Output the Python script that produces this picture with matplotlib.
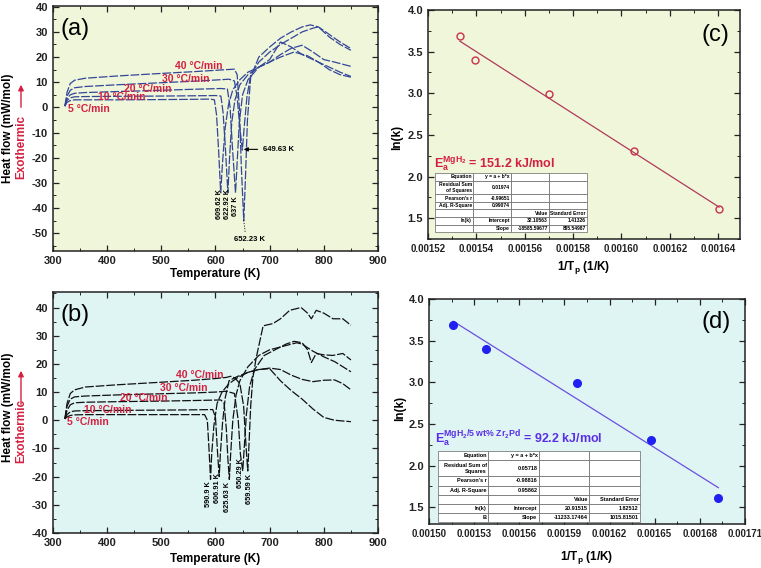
import matplotlib
matplotlib.use('Agg')
import matplotlib.pyplot as plt
import numpy as np
from matplotlib.ticker import MultipleLocator, FormatStrFormatter

plt.rcParams['font.family'] = ['Liberation Sans', 'DejaVu Sans']
plt.rcParams['mathtext.fontset'] = 'custom'
plt.rcParams['mathtext.rm'] = 'Liberation Sans'
plt.rcParams['mathtext.bf'] = 'Liberation Sans:bold'
plt.rcParams['mathtext.it'] = 'Liberation Sans:italic'
plt.rcParams['axes.unicode_minus'] = False

# ---------------- data ----------------
rates = ['5', '10', '20', '30', '40']
ln_k = [1.609, 2.303, 2.996, 3.401, 3.689]

# peak temperatures (K)
tp_a = [609.62, 622.92, 637.0, 649.63, 652.23]
tp_b = [590.9, 606.91, 625.63, 650.29, 659.59]

# DSC curves, panel (a) MgH2
a5_T = [322, 326, 332, 340, 360, 420, 500, 560, 590, 598, 602, 606, 609.6, 613, 618, 624, 632, 645, 660, 680, 700, 720, 745, 770, 790, 810, 830, 850]
a5_H = [0.5, 2.0, 2.7, 3.0, 3.0, 3.0, 3.1, 3.2, 3.3, 3.0, -3, -18, -34, -22, -8, 1, 7, 11, 14, 16, 18, 20, 22, 20.5, 18, 15, 13, 12]
a10_T = [322, 326, 332, 340, 360, 420, 500, 560, 600, 610, 614, 618, 622.9, 626, 630, 636, 645, 660, 680, 700, 720, 740, 760, 790, 810, 830, 850]
a10_H = [0.5, 2.8, 3.8, 4.2, 4.3, 4.4, 4.5, 4.6, 4.7, 4.5, -2, -15, -34, -20, -6, 3, 9, 13, 16, 19, 26, 24, 21, 18, 16, 14, 12.3]
a20_T = [322, 326, 332, 340, 360, 420, 500, 560, 610, 622, 627, 631, 637, 640, 644, 650, 660, 680, 700, 720, 740, 760, 780, 800, 820, 850]
a20_H = [0.5, 3.5, 5.0, 5.6, 5.9, 6.3, 6.8, 7.2, 7.5, 7.3, 0, -15, -34, -22, -6, 5, 11, 16, 18, 21, 23.5, 24.7, 22, 19, 18, 16.3]
a30_T = [322, 326, 332, 340, 360, 420, 500, 560, 610, 625, 635, 640, 645, 649.6, 653, 658, 665, 680, 700, 720, 740, 760, 780, 790, 810, 830, 850]
a30_H = [0.5, 4.5, 6.8, 7.8, 8.3, 9.0, 9.8, 10.4, 11.0, 11.2, 10.5, 4, -8, -17, -8, 4, 13, 18, 22, 25, 27.5, 30, 31.5, 32, 28, 25, 22.7]
a40_T = [322, 326, 332, 340, 360, 420, 500, 560, 620, 635, 640, 644, 648, 652.2, 655, 659, 665, 680, 700, 720, 740, 760, 775, 790, 810, 830, 850]
a40_H = [0.5, 6, 9.5, 10.8, 11.6, 12.5, 13.5, 14.2, 15.0, 15.2, 13, 0, -25, -45, -30, -5, 12, 20, 24, 27.5, 30, 32, 32.8, 32, 29, 26, 23.4]

# DSC curves, panel (b) MgH2/5 wt% Zr2Pd
b5_T = [322, 326, 332, 340, 360, 420, 500, 560, 580, 585, 588, 590.9, 593, 597, 603, 612, 625, 640, 660, 680, 700, 720, 740, 760, 780, 800, 820, 850]
b5_H = [0.5, 1.2, 1.7, 1.9, 2.0, 2.0, 2.0, 2.0, 2.0, 0, -10, -21, -12, -2, 6, 10, 13, 15, 17, 18, 18.3, 14, 10.5, 7.5, 4, 1, 0, -0.5]
b10_T = [322, 326, 332, 340, 360, 420, 500, 560, 595, 600, 604, 606.9, 609, 613, 618, 625, 640, 660, 680, 700, 720, 740, 760, 780, 800, 820, 835, 850]
b10_H = [0.5, 2.0, 3.0, 3.3, 3.4, 3.5, 3.6, 3.7, 3.8, 1, -12, -20, -12, -1, 8, 14, 15.5, 17, 18, 18.5, 18, 16, 14.5, 13.7, 14.2, 14.3, 13, 10.8]
b20_T = [322, 326, 332, 340, 360, 420, 500, 560, 610, 616, 620, 623, 625.6, 628, 632, 638, 645, 660, 680, 700, 720, 740, 750, 760, 780, 800, 820, 850]
b20_H = [0.5, 3.5, 5.5, 6.2, 6.4, 6.6, 6.8, 7.0, 7.2, 6, -3, -14, -21, -12, 0, 9, 14, 19, 23, 25, 26, 27, 27.5, 27, 24.5, 22.5, 20.8, 17.2]
b30_T = [322, 326, 332, 340, 360, 420, 500, 560, 600, 620, 635, 642, 646, 650.3, 653, 657, 663, 672, 690, 710, 730, 745, 760, 770, 777, 786, 800, 817, 835, 850]
b30_H = [0.5, 5, 7.5, 8.3, 8.6, 9.0, 9.4, 9.7, 10.0, 10.3, 9.5, 0, -12, -18, -10, 2, 12, 18, 23, 25, 27, 28, 27.5, 25, 20.5, 23.7, 23.2, 23, 23.7, 21.4]
b40_T = [322, 326, 332, 340, 360, 420, 500, 560, 600, 620, 628, 636, 645, 652, 656, 659.6, 662, 665, 669, 675, 688, 706, 720, 737, 758, 770, 777, 786, 800, 817, 835, 850]
b40_H = [0.5, 6, 9.5, 10.8, 11.8, 12.6, 13.5, 14.2, 14.8, 15.2, 15.6, 15, 13, 5, -8, -18, -8, 5, 15, 22, 33.5, 34.3, 36, 39, 40, 38, 36, 39, 38, 36, 36, 33.7]

# fit tables (as printed in the figure)
table_c = [["Equation", "y = a + b*x", "", ""],
           ["Residual Sum\nof Squares", "0.01974", "", ""],
           ["Pearson's r", "-0.99651", "", ""],
           ["Adj. R-Square", "0.99074", "", ""],
           ["", "", "Value", "Standard Error"],
           ["ln(k)", "Intercept", "32.10563", "1.41326"],
           ["", "Slope", "-18585.59677", "895.54987"]]
table_d = [["Equation", "y = a + b*x", "", ""],
           ["Residual Sum of\nSquares", "0.05718", "", ""],
           ["Pearson's r", "-0.98816", "", ""],
           ["Adj. R-Square", "0.95862", "", ""],
           ["", "", "Value", "Standard Error"],
           ["ln(k)", "Intercept", "20.91515", "1.82512"],
           ["B", "Slope", "-11233.17464", "1015.81501"]]

RED = '#d42040'
BG_A = '#eff6da'
BG_B = '#dff5f3'


def style_axes(ax, bg):
    ax.set_facecolor(bg)
    for s in ax.spines.values():
        s.set_linewidth(1.1)
        s.set_color('#222222')
    ax.tick_params(which='both', direction='in', top=True, right=True, colors='#222222')
    ax.tick_params(which='major', length=4, width=0.9, labelsize=8)
    ax.tick_params(which='minor', length=2, width=0.7)
    for lab in ax.get_xticklabels() + ax.get_yticklabels():
        lab.set_fontweight('bold')


def add_fit_table(ax, rows, bbox, fs):
    tb = ax.table(cellText=rows, cellLoc='right', bbox=bbox)
    tb.set_zorder(6)
    tb.auto_set_font_size(False)
    tb.set_fontsize(fs)
    for (r, c), cell in tb.get_celld().items():
        cell.set_edgecolor('#666666')
        cell.set_linewidth(0.5)
        cell.set_facecolor('white')
        cell.PAD = 0.03
        cell.get_text().set_fontweight('bold')
        if c == 0 or (r == 4 and c == 2):
            cell._loc = 'left'
        if r == 4 and c == 3:
            cell._loc = 'center'
        if r == 1:
            cell.set_height(cell.get_height() * 1.8)
    return tb


fig = plt.figure(figsize=(7.61, 5.68), dpi=100, facecolor='white')
ls = (0, (7, 1.5))

# ---------- (a) ----------
ax_a = fig.add_axes([0.0696, 0.5586, 0.4271, 0.4308])
for T, H in [(a5_T, a5_H), (a10_T, a10_H), (a20_T, a20_H), (a30_T, a30_H), (a40_T, a40_H)]:
    ax_a.plot(T, H, color='#34469a', lw=0.9, linestyle=ls)
ax_a.set_xlim(300, 900)
ax_a.set_ylim(-57, 40.3)
ax_a.xaxis.set_major_locator(MultipleLocator(100))
ax_a.xaxis.set_minor_locator(MultipleLocator(50))
ax_a.yaxis.set_major_locator(MultipleLocator(10))
ax_a.yaxis.set_minor_locator(MultipleLocator(5))
style_axes(ax_a, BG_A)
ax_a.text(0.022, 0.905, '(a)', transform=ax_a.transAxes, fontsize=17, va='center', ha='left')
lab_a = [(327.7, -0.7), (384, 4.1), (430.5, 7.4), (501, 11.2), (524.6, 16.5)]
for r, (x, y) in zip(rates, lab_a):
    ax_a.text(x, y, r + ' °C/min', color=RED, fontsize=7.5, fontweight='bold', va='center', ha='left')
for T, xl, ytop in [(tp_a[0], 607.5, -32.4), (tp_a[1], 622.5, -32.4), (tp_a[2], 637.5, -35.5)]:
    txt = ('%g K' % T) if T == 637.0 else ('%.2f K' % T)
    ax_a.text(xl, ytop, txt, rotation=90, fontsize=5.3, fontweight='bold', ha='center', va='top')
ax_a.annotate('%.2f K' % tp_a[3], xy=(647, -16.7), xytext=(688, -16.7), fontsize=5.5, fontweight='bold',
              va='center', ha='left', arrowprops=dict(arrowstyle='-|>', color='black', lw=0.8, mutation_scale=6))
ax_a.plot([652.2, 655], [-45, -50], color='black', lw=0.7, linestyle=':')
ax_a.text(663, -52.5, '%.2f K' % tp_a[4], fontsize=5.5, fontweight='bold', ha='center', va='center')

# ---------- (b) ----------
ax_b = fig.add_axes([0.0696, 0.0616, 0.4271, 0.4243])
for T, H in [(b5_T, b5_H), (b10_T, b10_H), (b20_T, b20_H), (b30_T, b30_H), (b40_T, b40_H)]:
    ax_b.plot(T, H, color='#111111', lw=0.9, linestyle=ls)
ax_b.set_xlim(300, 900)
ax_b.set_ylim(-40, 45.5)
ax_b.xaxis.set_major_locator(MultipleLocator(100))
ax_b.xaxis.set_minor_locator(MultipleLocator(50))
ax_b.yaxis.set_major_locator(MultipleLocator(10))
ax_b.yaxis.set_minor_locator(MultipleLocator(5))
style_axes(ax_b, BG_B)
ax_b.text(0.022, 0.905, '(b)', transform=ax_b.transAxes, fontsize=17, va='center', ha='left')
lab_b = [(325, -0.5), (358, 3.7), (423, 7.8), (497, 11.6), (527.7, 16.0)]
for r, (x, y) in zip(rates, lab_b):
    ax_b.text(x, y, r + ' °C/min', color=RED, fontsize=7.5, fontweight='bold', va='center', ha='left')
pos_b = [(587, -21.7), (604.5, -18.8), (623, -22.0), (646, -13.5), (662, -19.0)]
for T, (xl, ytop) in zip(tp_b, pos_b):
    txt = ('%.1f K' % T) if T == 590.9 else ('%.2f K' % T)
    ax_b.text(xl, ytop, txt, rotation=90, fontsize=5.3, fontweight='bold', ha='center', va='top')

# ---------- (c) ----------
inv_a = 1.0 / np.array(tp_a)
ax_c = fig.add_axes([0.5624, 0.5792, 0.4100, 0.4032])
pc = np.polyfit(inv_a, ln_k, 1)
xf = np.array([inv_a.min(), inv_a.max()])
ax_c.plot(xf, np.polyval(pc, xf), color='#b03a58', lw=0.9)
ax_c.plot(inv_a, ln_k, 'o', ms=5, mfc='none', mec='#c8304c', mew=1.0)
ax_c.set_xlim(0.00152, 0.001649)
ax_c.set_ylim(1.25, 4.0)
ax_c.xaxis.set_major_locator(MultipleLocator(0.00002))
ax_c.xaxis.set_minor_locator(MultipleLocator(0.00001))
ax_c.yaxis.set_major_locator(MultipleLocator(0.5))
ax_c.yaxis.set_minor_locator(MultipleLocator(0.25))
ax_c.xaxis.set_major_formatter(FormatStrFormatter('%.5f'))
ax_c.yaxis.set_major_formatter(FormatStrFormatter('%.1f'))
style_axes(ax_c, BG_A)
ax_c.tick_params(axis='x', labelsize=7)
ax_c.text(0.878, 0.89, '(c)', transform=ax_c.transAxes, fontsize=17, va='center', ha='left')
ax_c.text(0.02, 0.33, r'$\mathbf{E}_\mathbf{a}^\mathbf{MgH_2}$ = 151.2 kJ/mol', transform=ax_c.transAxes,
          color=RED, fontsize=9, fontweight='bold', va='center', ha='left')
add_fit_table(ax_c, table_c, [0.022, 0.03, 0.488, 0.258], 3.6)

# ---------- (d) ----------
inv_b = 1.0 / np.array(tp_b)
ax_d = fig.add_axes([0.5637, 0.0775, 0.4152, 0.3961])
pd_ = np.polyfit(inv_b, ln_k, 1)
xf = np.array([inv_b.min(), inv_b.max()])
ax_d.plot(xf, np.polyval(pd_, xf), color='#6b4fe0', lw=0.9)
ax_d.plot(inv_b, ln_k, 'o', ms=5.5, color='#2020f0')
ax_d.set_xlim(0.00150, 0.00171)
ax_d.set_ylim(1.3, 4.0)
ax_d.xaxis.set_major_locator(MultipleLocator(0.00003))
ax_d.xaxis.set_minor_locator(MultipleLocator(0.000015))
ax_d.yaxis.set_major_locator(MultipleLocator(0.5))
ax_d.yaxis.set_minor_locator(MultipleLocator(0.25))
ax_d.xaxis.set_major_formatter(FormatStrFormatter('%.5f'))
ax_d.yaxis.set_major_formatter(FormatStrFormatter('%.1f'))
style_axes(ax_d, BG_B)
ax_d.tick_params(axis='x', labelsize=7)
ax_d.text(0.864, 0.898, '(d)', transform=ax_d.transAxes, fontsize=17, va='center', ha='left')
ax_d.text(0.02, 0.38, r'$\mathbf{E}_\mathbf{a}^\mathbf{MgH_2/5\ wt\%\ Zr_2Pd}$ = 92.2 kJ/mol',
          transform=ax_d.transAxes, color='#5a2ee8', fontsize=9, fontweight='bold', va='center', ha='left')
add_fit_table(ax_d, table_d, [0.028, 0.01, 0.64, 0.314], 4)

# ---------- axis labels ----------
W, H = 761.0, 568.0


def ftext(x, y, s, **kw):
    fig.text(x / W, 1 - y / H, s, **kw)


ftext(215, 274, 'Temperature (K)', fontsize=8.5, fontweight='bold', ha='center', va='center')
ftext(215, 559, 'Temperature (K)', fontsize=8.5, fontweight='bold', ha='center', va='center')
ftext(584, 267, r'1/T$_\mathbf{p}$ (1/K)', fontsize=8.5, fontweight='bold', ha='center', va='center')
ftext(587, 558, r'1/T$_\mathbf{p}$ (1/K)', fontsize=8.5, fontweight='bold', ha='center', va='center')
ftext(397, 137, 'ln(k)', fontsize=8.5, fontweight='bold', ha='center', va='center', rotation=90)
ftext(400, 408, 'ln(k)', fontsize=8.5, fontweight='bold', ha='center', va='center', rotation=90)
for yc, ye, y0, y1 in [(128, 147, 110, 82), (407, 431, 407, 368)]:
    ftext(8, yc, 'Heat flow (mW/mol)', fontsize=8.5, fontweight='bold', ha='center', va='center', rotation=90)
    ftext(21, ye, 'Exothermic', fontsize=8.5, fontweight='bold', color=RED, ha='center', va='center', rotation=90)
    fig.add_artist(matplotlib.patches.FancyArrowPatch((21 / W, 1 - y0 / H), (21 / W, 1 - y1 / H),
                                                      transform=fig.transFigure, arrowstyle='-|>',
                                                      mutation_scale=8, color=RED, lw=1.0))

fig.savefig('out.png', dpi=100, facecolor='white')
